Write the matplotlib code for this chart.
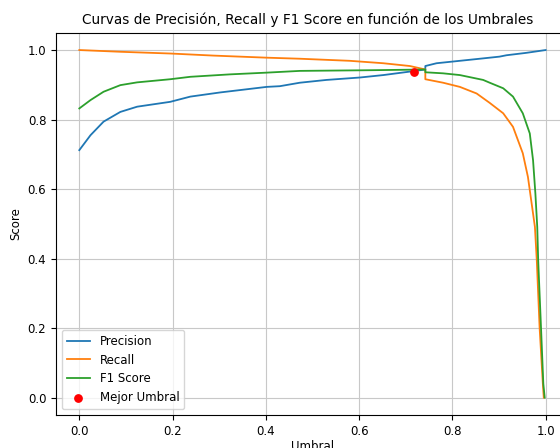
import matplotlib
matplotlib.use('Agg')
import matplotlib.pyplot as plt

# umbrales y métricas de cada curva
prec_thr = [0.0, 0.024, 0.052, 0.088, 0.124, 0.195, 0.238, 0.302, 0.402, 0.43, 0.473, 0.53,
            0.602, 0.652, 0.709, 0.742, 0.742, 0.766, 0.816, 0.866, 0.901, 0.916, 0.959, 1.0]
precision = [0.712, 0.755, 0.794, 0.822, 0.837, 0.851, 0.866, 0.878, 0.894, 0.896, 0.906, 0.914,
             0.921, 0.928, 0.938, 0.944, 0.954, 0.962, 0.969, 0.976, 0.981, 0.985, 0.992, 1.0]

rec_thr = [0.0, 0.088, 0.195, 0.288, 0.402, 0.473, 0.58, 0.652, 0.709, 0.742, 0.742, 0.78,
           0.816, 0.852, 0.88, 0.909, 0.93, 0.951, 0.962, 0.969, 0.977, 0.981, 0.987, 0.994, 0.996]
recall = [1.0, 0.995, 0.990, 0.984, 0.978, 0.975, 0.969, 0.962, 0.954, 0.944, 0.916, 0.906,
          0.894, 0.875, 0.848, 0.818, 0.779, 0.703, 0.635, 0.568, 0.491, 0.395, 0.203, 0.04, 0.0]

f1_thr = [0.0, 0.024, 0.052, 0.088, 0.124, 0.195, 0.238, 0.323, 0.402, 0.473, 0.628, 0.742,
          0.742, 0.78, 0.816, 0.866, 0.88, 0.909, 0.93, 0.951, 0.966, 0.973, 0.978, 0.982,
          0.984, 0.99, 0.995, 0.998]
f1 = [0.832, 0.856, 0.880, 0.899, 0.907, 0.916, 0.923, 0.930, 0.935, 0.940, 0.942, 0.944,
      0.936, 0.933, 0.928, 0.914, 0.906, 0.890, 0.866, 0.818, 0.760, 0.683, 0.587, 0.491,
      0.395, 0.203, 0.04, 0.0]

best_thr = 0.717
best_score = 0.936

plt.rcParams['font.size'] = 8.5
plt.rcParams['lines.linewidth'] = 1.3

fig = plt.figure(figsize=(5.6, 4.48), dpi=100)
ax = fig.add_axes([0.1, 0.0737, 0.916, 0.8534])

ax.plot(prec_thr, precision, label='Precision')
ax.plot(rec_thr, recall, label='Recall')
ax.plot(f1_thr, f1, label='F1 Score')
ax.scatter([best_thr], [best_score], s=28, color='red', label='Mejor Umbral', zorder=3)

ax.set_xlim(-0.05, 1.05)
ax.set_ylim(-0.05, 1.05)
ax.set_title('Curvas de Precisión, Recall y F1 Score en función de los Umbrales', fontsize=9.8, x=0.49)
ax.set_xlabel('Umbral', labelpad=1.5)
ax.set_ylabel('Score')
ax.legend(loc='lower left')
ax.grid(True, color='#c8c8c8')

fig.savefig('out.png', dpi=100)
